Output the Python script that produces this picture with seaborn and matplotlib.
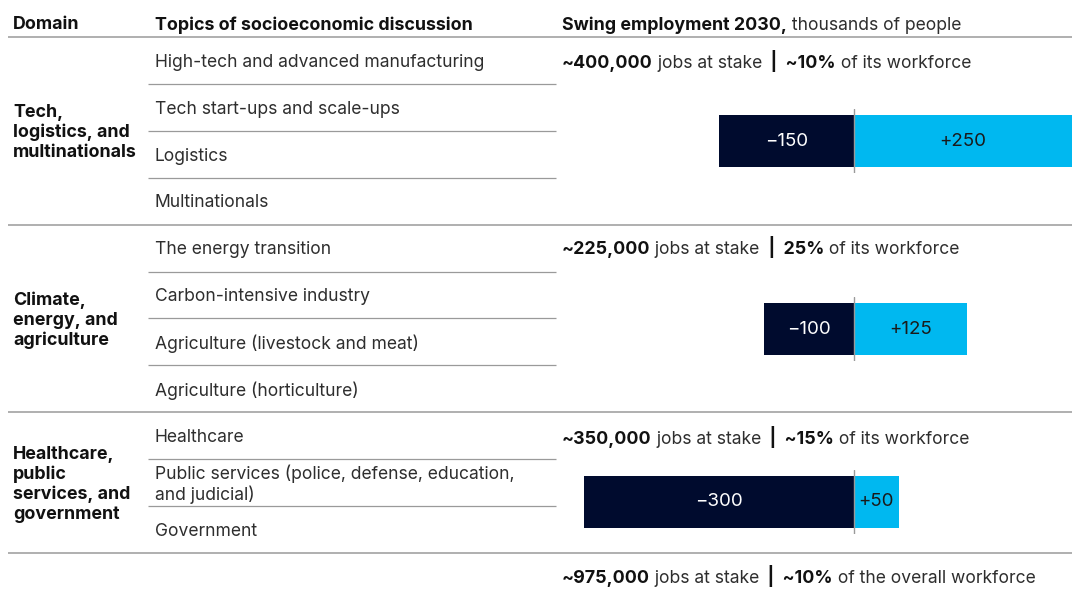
import matplotlib
matplotlib.use("Agg")
import matplotlib.pyplot as plt
import seaborn as sns
import pandas as pd

sns.set_theme(style="white")
plt.rcParams['font.family'] = ['Inter', 'DejaVu Sans']

# --- data -------------------------------------------------------------
domains = [
    "Tech,\nlogistics, and\nmultinationals",
    "Climate,\nenergy, and\nagriculture",
    "Healthcare,\npublic\nservices, and\ngovernment",
]
topics = [
    ["High-tech and advanced manufacturing", "Tech start-ups and scale-ups",
     "Logistics", "Multinationals"],
    ["The energy transition", "Carbon-intensive industry",
     "Agriculture (livestock and meat)", "Agriculture (horticulture)"],
    ["Healthcare", "Public services (police, defense, education,\nand judicial)",
     "Government"],
]
job_losses = [-150, -100, -300]      # thousands of people
job_gains = [250, 125, 50]           # thousands of people
jobs_at_stake = ["~400,000", "~225,000", "~350,000"]
workforce_share = ["~10%", "25%", "~15%"]
total_at_stake = "~975,000"
total_share = "~10%"

# --- style ------------------------------------------------------------
NAVY = "#000B2E"
CYAN = "#00B8F0"
RULE = "#9a9a9a"
INK = "#111111"
TEXT = "#2e2e2e"
FS = 12.6        # regular text
FSB = 12.85      # bold text
LS = 1.2
DY = 1.8         # optical centring of text in its row

W, H = 1072, 589
fig = plt.figure(figsize=(W / 100, H / 100), dpi=100)
fig.patch.set_facecolor("white")

# page canvas in pixel coordinates for the table layout
bg = fig.add_axes([0, 0, 1, 1])
bg.set_xlim(0, W)
bg.set_ylim(H, 0)
bg.axis("off")


def rich_line(ax, x, y, parts):
    prev = None
    for txt, bold in parts:
        kw = dict(fontsize=FSB if bold else FS, color=INK if bold else TEXT,
                  fontweight="bold" if bold else "normal")
        if prev is None:
            prev = ax.text(x, y + DY, txt, va="center", ha="left", **kw)
        else:
            prev = ax.annotate(txt, xy=(1, 0), xycoords=prev,
                               va="bottom", ha="left", **kw)
    return prev


# header
bg.text(13, 23 + DY, "Domain", fontsize=FSB, fontweight="bold", color=INK,
        va="center")
bg.text(155, 23 + DY, "Topics of socioeconomic discussion", fontsize=FSB,
        fontweight="bold", color=INK, va="center")
rich_line(bg, 562, 23, [("Swing employment 2030,", True),
                        (" thousands of people", False)])

TOP = 37
ROW = 46.9
bar_centers = [141, 329, 502]
note_y = [62, 248, 438]

bg.plot([8, W], [TOP, TOP], color=RULE, lw=1.1, solid_capstyle="butt")
y = TOP
for i, dom in enumerate(domains):
    n = len(topics[i])
    g_top = y
    for j, topic in enumerate(topics[i]):
        cy = g_top + ROW * (j + 0.5)
        bg.text(155, cy + DY, topic, fontsize=FS, color=TEXT, va="center",
                ha="left", linespacing=LS)
        if j < n - 1:
            yy = g_top + ROW * (j + 1)
            bg.plot([148, 556], [yy, yy], color=RULE, lw=0.9,
                    solid_capstyle="butt")
    g_bot = g_top + ROW * n
    bg.text(13, (g_top + g_bot) / 2 + DY, dom, fontsize=FSB,
            fontweight="bold", color=INK, va="center", ha="left",
            linespacing=LS)
    bg.plot([8, W], [g_bot, g_bot], color=RULE, lw=1.1, solid_capstyle="butt")
    y = g_bot

    rich_line(bg, 562, note_y[i], [
        (jobs_at_stake[i], True), (" jobs at stake", False),
        ("  |", True), ("  " + workforce_share[i], True),
        (" of its workforce", False)])

rich_line(bg, 562, 577, [
    (total_at_stake, True), (" jobs at stake", False),
    ("  |", True), ("  " + total_share, True),
    (" of the overall workforce", False)])

# --- diverging bars -----------------------------------------------------
X0 = 530
ZERO = 854
PX_PER_K = 0.9
BAR_AX_H = 64


def fmt(v):
    return f"{v:+d}".replace("-", "\u2212")


for i, dom in enumerate(domains):
    cy = bar_centers[i]
    ax = fig.add_axes([X0 / W, 1 - (cy + BAR_AX_H / 2) / H,
                       (W - X0) / W, BAR_AX_H / H])
    df = pd.DataFrame({
        "change": [job_losses[i], job_gains[i]],
        "direction": ["loss", "gain"],
        "domain": [dom, dom],
    })
    sns.barplot(data=df, x="change", y="domain", hue="direction",
                hue_order=["loss", "gain"],
                palette={"loss": NAVY, "gain": CYAN}, dodge=False,
                saturation=1, width=0.8, legend=False, linewidth=0, ax=ax)
    ax.set_xlim((X0 - ZERO) / PX_PER_K, (W - ZERO) / PX_PER_K)
    ax.set_ylim(0.5, -0.5)
    ax.axvline(0, color=RULE, lw=1)
    ax.axis("off")
    for cont, val, col in zip(ax.containers, [job_losses[i], job_gains[i]],
                              ["white", "#1a1a1a"]):
        ax.bar_label(cont, labels=[fmt(val)], label_type="center",
                     color=col, fontsize=13.5)

fig.savefig("out.png", dpi=100, facecolor="white")
